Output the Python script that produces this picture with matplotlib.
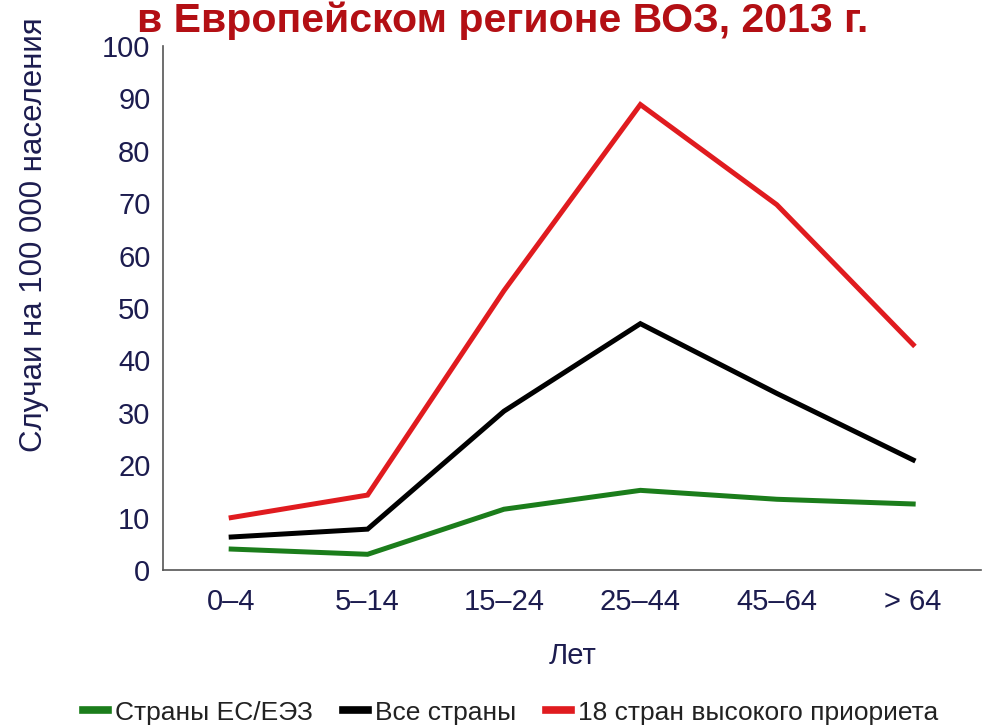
import matplotlib
matplotlib.use("Agg")
import matplotlib.pyplot as plt
from matplotlib.lines import Line2D

plt.rcParams['font.family'] = ['Liberation Sans', 'DejaVu Sans']

categories = ["0–4", "5–14", "15–24", "25–44", "45–64", "> 64"]
eu_eea = [4.0, 3.0, 11.6, 15.2, 13.5, 12.6]
all_countries = [6.3, 7.8, 30.3, 47.0, 33.7, 21.0]
high_priority = [10.0, 14.3, 53.3, 88.8, 69.7, 43.0]
series_names = ["Страны ЕС/ЕЭЗ", "Все страны", "18 стран высокого приориета"]
colors = ["#1b7d1b", "#000000", "#e01b1f"]

title = "в Европейском регионе ВОЗ, 2013 г."
ylabel = "Случаи на 100 000 населения"
xlabel = "Лет"
text_color = "#1c1c4f"

fig = plt.figure(figsize=(9.86, 7.28), dpi=100)
ax = fig.add_axes([0.1653, 0.217, 0.83, 0.72])

x = list(range(len(categories)))
for vals, c in zip([eu_eea, all_countries, high_priority], colors):
    ax.plot(x, vals, color=c, lw=3.6, solid_joinstyle='miter')

ax.set_xlim(-0.5, len(categories) - 0.5)
ax.set_ylim(0, 100)
ax.set_yticks(range(0, 101, 10))
ax.set_xticks(x)
ax.set_xticklabels(categories)
ax.tick_params(axis='both', length=0, labelsize=21, colors=text_color)
ax.tick_params(axis='y', pad=9)
ax.tick_params(axis='x', pad=13)
for s in ['top', 'right']:
    ax.spines[s].set_visible(False)
for s in ['left', 'bottom']:
    ax.spines[s].set_color('#555555')
    ax.spines[s].set_linewidth(1.2)

fig.text(34 / 986, 1 - 452 / 728, ylabel, fontsize=22.5, color=text_color,
         rotation=90, ha='center', va='bottom')
ax.set_xlabel(xlabel, fontsize=21, color=text_color, labelpad=19)

fig.text(0.51, 1 - 32 / 728, title, fontsize=29.5, fontweight='bold', color='#b30f14',
         ha='center', va='baseline')

handles = [Line2D([0], [0], color=c, lw=5.5) for c in colors]
fig.legend(handles, series_names, loc='center', bbox_to_anchor=(0.518, 0.021),
           ncol=3, frameon=False, fontsize=19, handlelength=0.95,
           handletextpad=0.25, columnspacing=1.15, labelcolor='#222222')

fig.savefig("out.png", dpi=100)
